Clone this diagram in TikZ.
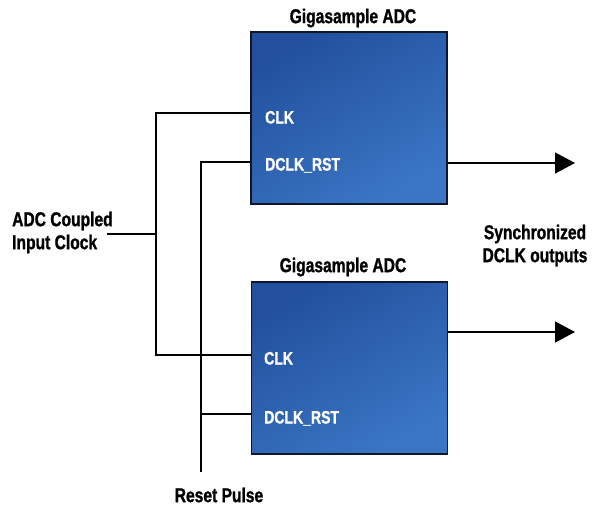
\documentclass[tikz,border=0pt]{standalone}
\usepackage{fontspec}
\setmainfont{Liberation Sans}[FakeStretch=0.78, BoldFeatures={FakeBold=1.2}]
\usetikzlibrary{arrows.meta,positioning}
\definecolor{adcdark}{RGB}{34,80,158}
\definecolor{adclight}{RGB}{58,118,196}
\definecolor{adcedge}{RGB}{14,22,44}
\tikzset{
    adcbox/.style = {draw = adcedge, line width = 1.8pt, minimum width = 196pt, minimum height = 172pt,
        top color = adcdark, bottom color = adclight, shading angle = 30},
    lbl/.style = {font = \bfseries\fontsize{20}{23}\selectfont, align = center, inner sep = 0pt},
    port/.style = {font = \bfseries\fontsize{18}{20}\selectfont, text = white, anchor = west,
        inner sep = 0pt, text height = 13pt, text depth = 0pt},
    wire/.style = {line width = 1.5pt},
    outarrow/.style = {wire, -{Triangle[length = 20pt, width = 21pt]}}
}

\begin{document}
\begin{tikzpicture}[x = 1pt, y = -1pt]%
    \useasboundingbox (0, 0) rectangle (597, 506);
    % the two converters
    \node[adcbox] (adcA) at (349, 118) {};
    \node[adcbox] (adcB) at (349.5, 368) {};
    \node[lbl] (titleA) at (353, 18) {Gigasample ADC};
    \node[lbl] (titleB) at (343, 267) {Gigasample ADC};
    \node[port] (clkA) at (265, 117) {CLK};
    \node[port] (rstA) at (265, 164) {DCLK\_RST};
    \node[port] (clkB) at (264, 358) {CLK};
    \node[port] (rstB) at (264, 417) {DCLK\_RST};
    % outer labels
    \node[lbl, align = left, anchor = west] (clkin) at (12, 232.5) {ADC Coupled\\Input Clock};
    \node[lbl] (rstin) at (219, 495) {Reset Pulse};
    \node[lbl] (sync) at (535, 245.5) {Synchronized\\DCLK outputs};
    \coordinate (clkj) at (156, 234);
    \coordinate (rstend) at (201, 472);
    \coordinate (outA) at (575, 163);
    \coordinate (outB) at (575, 332);
    \coordinate (pinClkA) at ([yshift = 4pt]clkA.west -| adcA.west);
    \coordinate (pinRstA) at ([yshift = 2pt]rstA.west -| adcA.west);
    \coordinate (pinClkB) at ([yshift = 3pt]clkB.west -| adcB.west);
    \coordinate (pinRstB) at ([yshift = 3pt]rstB.west -| adcB.west);
    % clock tree
    \draw[wire] ([xshift = -6pt]clkin.east |- clkj) -- (clkj);
    \draw[wire] (pinClkA) -| (clkj) |- (pinClkB);
    % reset line
    \draw[wire] (rstend) |- (pinRstA);
    \draw[wire] (rstend |- pinRstB) -- (pinRstB);
    % outputs
    \draw[outarrow] (adcA.east |- outA) -- (outA);
    \draw[outarrow] (adcB.east |- outB) -- (outB);
\end{tikzpicture}
\end{document}
